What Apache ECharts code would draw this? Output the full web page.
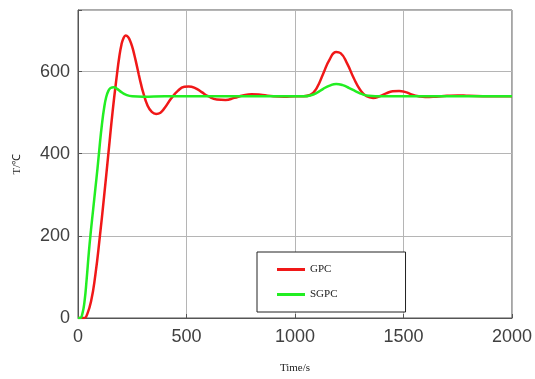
<!DOCTYPE html>
<html>
<head>
<meta charset="utf-8">
<script src="https://cdn.jsdelivr.net/npm/echarts@6/dist/echarts.min.js"></script>
<style>html,body{margin:0;padding:0;background:#fff;}#c{width:535px;height:379px;}</style>
</head>
<body>
<div id="c"></div>
<script>
const xTicks = [0, 500, 1000, 1500, 2000];
const yTicks = [0, 200, 400, 600];

const gpcTime = [0,20,30,40,60,80,100,120,140,160,180,190,200,210,220,230,240,250,260,270,280,290,300,320,340,360,380,400,430,460,490,510,540,570,600,640,680,720,760,800,850,900,950,1000,1040,1070,1100,1130,1160,1190,1210,1240,1270,1300,1330,1360,1390,1420,1450,1480,1510,1540,1570,1600,1650,1700,1750,1800,1900,2000];
const gpcTemp = [0,0,0,6,40,105,195,295,400,505,595,635,665,682,688,685,675,660,640,617,593,570,550,518,502,497,500,512,535,553,563,564,560,550,540,532,531,536,542,545,543,540,539,540,540,543,560,595,630,648,645,620,585,556,540,536,540,547,552,553,550,544,540,538,539,541,542,541,540,540];

const sgpcTime = [0,10,20,30,40,50,60,70,80,90,100,110,120,130,140,150,165,180,200,220,250,300,400,600,800,1000,1040,1070,1100,1130,1160,1190,1220,1250,1280,1310,1340,1370,1400,1600,1800,2000];
const sgpcTemp = [0,0,10,40,95,160,215,265,315,365,420,470,510,538,553,560,562,558,550,544,540,539,540,540,540,540,540,542,548,558,566,570,567,560,552,545,541,540,540,540,540,540];

const pair = (t, v) => t.map((x, i) => [x, v[i]]);

const chart = echarts.init(document.getElementById('c'));
chart.setOption({
  animation: false,
  backgroundColor: '#fff',
  grid: { left: 78, right: 23, top: 10, bottom: 58, show: true, borderColor: '#555', borderWidth: 1 },
  legend: {
    left: 257, top: 252, orient: 'vertical',
    backgroundColor: '#fff', borderColor: '#222', borderWidth: 1,
    padding: [12, 68, 12, 20], itemGap: 14,
    icon: 'rect', itemWidth: 28, itemHeight: 3,
    textStyle: { fontFamily: 'Liberation Serif', fontSize: 11, color: '#222' },
    data: ['GPC', 'SGPC']
  },
  xAxis: {
    type: 'value', min: 0, max: 2000, interval: 500,
    name: 'Time/s', nameLocation: 'middle', nameGap: 45,
    nameTextStyle: { fontFamily: 'Liberation Serif', fontSize: 11, color: '#222' },
    axisLine: { show: true, lineStyle: { color: '#555' } },
    axisTick: { show: true, inside: true, length: 4, lineStyle: { color: '#555' } },
    axisLabel: { fontFamily: 'Liberation Sans', fontSize: 18, color: '#404040', margin: 10,
      formatter: v => xTicks.includes(v) ? String(v) : '' },
    splitLine: { show: true, lineStyle: { color: '#b5b5b5', width: 1 } }
  },
  yAxis: {
    type: 'value', min: 0, max: 750, interval: 200,
    name: 'T/℃', nameLocation: 'middle', nameGap: 55, nameRotate: 90,
    nameTextStyle: { fontFamily: 'Liberation Serif', fontSize: 11, color: '#222' },
    axisLine: { show: true, lineStyle: { color: '#555' } },
    axisTick: { show: true, inside: true, length: 4, lineStyle: { color: '#555' } },
    axisLabel: { fontFamily: 'Liberation Sans', fontSize: 18, color: '#404040', margin: 8,
      formatter: v => yTicks.includes(v) ? String(v) : '' },
    splitLine: { show: true, lineStyle: { color: '#b5b5b5', width: 1 } }
  },
  series: [
    { name: 'GPC', type: 'line', data: pair(gpcTime, gpcTemp), smooth: 0.5, symbol: 'none',
      lineStyle: { color: '#f01818', width: 2.5 }, itemStyle: { color: '#f01818' }, z: 3 },
    { name: 'SGPC', type: 'line', data: pair(sgpcTime, sgpcTemp), smooth: 0.5, symbol: 'none',
      lineStyle: { color: '#22ee22', width: 2.5 }, itemStyle: { color: '#22ee22' }, z: 4 }
  ]
});
</script>
</body>
</html>
